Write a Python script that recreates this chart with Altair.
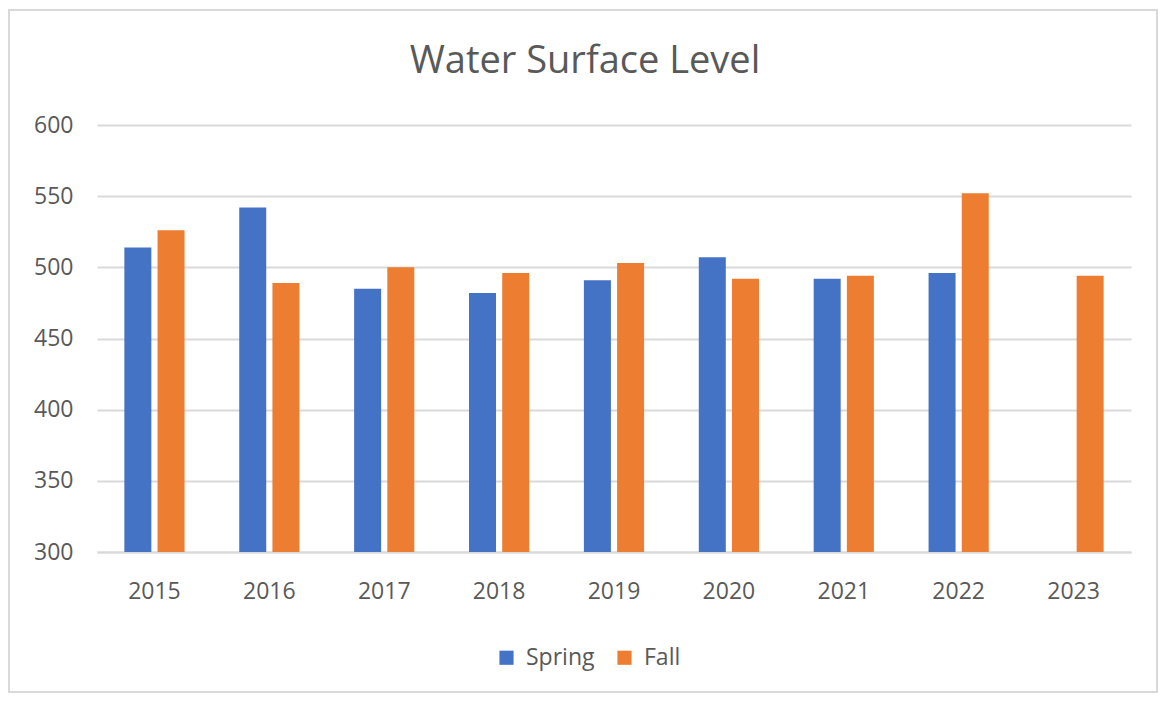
import altair as alt
import pandas as pd

years = ["2015", "2016", "2017", "2018", "2019", "2020", "2021", "2022", "2023"]
spring = [514, 542, 485, 482, 491, 507, 492, 496, None]
fall = [526, 489, 500, 496, 503, 492, 494, 552, 494]
seasons = ["Spring", "Fall"]
colors = ["#4472C4", "#ED7D31"]

rows = []
for y, s, f in zip(years, spring, fall):
    if s is not None:
        rows.append({"year": y, "season": "Spring", "value": s})
    if f is not None:
        rows.append({"year": y, "season": "Fall", "value": f})
df = pd.DataFrame(rows)

FONT = "Open Sans"
GRAY = "#595959"

bars = alt.Chart(df).mark_bar(size=27).encode(
    x=alt.X("year:N", sort=years, title=None,
            scale=alt.Scale(paddingInner=0.48, paddingOuter=0.24),
            axis=alt.Axis(labelAngle=0, labelFontSize=23, labelColor=GRAY, labelFont=FONT,
                          ticks=False, domainColor="#d9d9d9", domainWidth=2, labelPadding=28)),
    xOffset=alt.XOffset("season:N", sort=seasons, scale=alt.Scale(paddingInner=0.2, paddingOuter=0)),
    y=alt.Y("value:Q", title=None,
            scale=alt.Scale(domain=[300, 600], zero=False, nice=False),
            axis=alt.Axis(values=[300, 350, 400, 450, 500, 550, 600], labelFontSize=23,
                          labelColor=GRAY, labelFont=FONT, ticks=False, domain=False,
                          gridColor="#d9d9d9", gridWidth=2, labelPadding=24)),
    y2=alt.datum(300),
    color=alt.Color("season:N", sort=seasons,
                    scale=alt.Scale(domain=seasons, range=colors),
                    legend=alt.Legend(title=None, orient="none", direction="horizontal",
                                      legendX=398, legendY=521, symbolType="square",
                                      symbolSize=200, symbolStrokeWidth=0, labelFontSize=23,
                                      labelColor=GRAY, labelFont=FONT, columnPadding=18,
                                      labelOffset=8)),
)

border = alt.Chart(pd.DataFrame({"a": [0]})).mark_rect(
    fill=None, stroke="#d9d9d9", strokeWidth=2, clip=False
).encode(x=alt.value(-88), x2=alt.value(1060), y=alt.value(-115), y2=alt.value(567))

chart = alt.layer(border, bars).properties(
    width=1034, height=427,
    title=alt.TitleParams("Water Surface Level", fontSize=38, font=FONT, color=GRAY,
                          fontWeight="normal", anchor="middle", dx=-29, offset=0, dy=72),
    autosize=alt.AutoSizeParams(type="none"),
    padding={"left": 89, "top": 117, "right": 27, "bottom": 143},
).configure_view(stroke=None)

chart.save("out.html", embed_options={"renderer": "svg", "actions": False})
